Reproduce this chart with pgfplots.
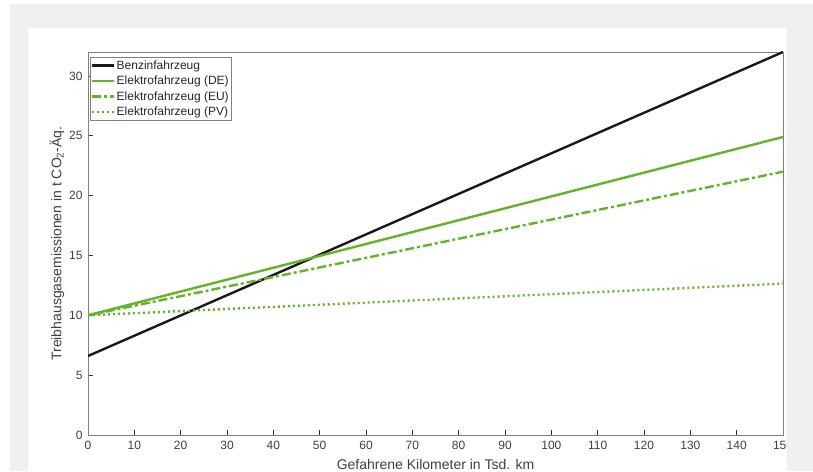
\documentclass[border=0pt]{standalone}
\usepackage{pgfplots}
\pgfplotsset{compat=1.18}
\usepackage{fontspec}
\setmainfont{Liberation Sans}
\definecolor{ggreen}{RGB}{98,180,40}
\definecolor{bgray}{RGB}{240,240,240}
\begin{document}
\begin{tikzpicture}[x=1pt,y=1pt]
\useasboundingbox (0,0) rectangle (813,471);
\fill[bgray] (10,0) rectangle (813,467);
\fill[white] (28,0) rectangle (787,443);
\begin{axis}[at={(88pt,36pt)}, anchor=south west, scale only axis,
  width=695pt, height=383pt,
  xmin=0, xmax=150, ymin=0, ymax=32,
  xtick={0,10,...,150}, ytick={0,5,...,30},
  axis line style={black!50, line width=0.7pt},
  tick style={black!80, line width=0.7pt},
  major tick length=5pt, tick align=inside,
  xtick pos=bottom, ytick pos=left,
  ticklabel style={font=\fontsize{12}{13}\selectfont, text=black!75},
  xticklabel style={yshift=-3pt},
  yticklabel style={xshift=-2pt},
  /pgf/number format/assume math mode=true,
  xlabel={Gefahrene Kilometer in Tsd. km},
  ylabel={Treibhausgasemissionen in t CO\textsubscript{2}-Äq.},
  label style={font=\fontsize{14}{15}\selectfont, text=black!75},
  xlabel style={yshift=-2pt},
  ylabel style={yshift=-2pt},
  legend style={at={(0.003,0.986)}, anchor=north west, draw=black!50,
    font=\fontsize{12}{13}\selectfont, text=black!85, inner sep=1pt,
    row sep=1.5pt, cells={anchor=west},
    nodes={inner sep=1pt, text height=9.5pt, text depth=2.5pt}},
  legend cell align=left,
  legend image code/.code={\draw[#1] (0pt,0pt) -- (22pt,0pt);},
]
\addplot[black!90, line width=2.4pt] coordinates {(0,6.6) (150,32)};
\addlegendentry{Benzinfahrzeug}
\addplot[ggreen, line width=2.4pt] coordinates {(0,10) (150,24.9)};
\addlegendentry{Elektrofahrzeug (DE)}
\addplot[ggreen, line width=2.4pt, dash pattern=on 9pt off 3pt on 3pt off 3pt] coordinates {(0,10) (150,22)};
\addlegendentry{Elektrofahrzeug (EU)}
\addplot[ggreen, line width=2.4pt, dash pattern=on 2pt off 3pt] coordinates {(0,10) (150,12.65)};
\addlegendentry{Elektrofahrzeug (PV)}
\end{axis}
\fill[bgray] (787,0) rectangle (813,467);
\end{tikzpicture}
\end{document}
